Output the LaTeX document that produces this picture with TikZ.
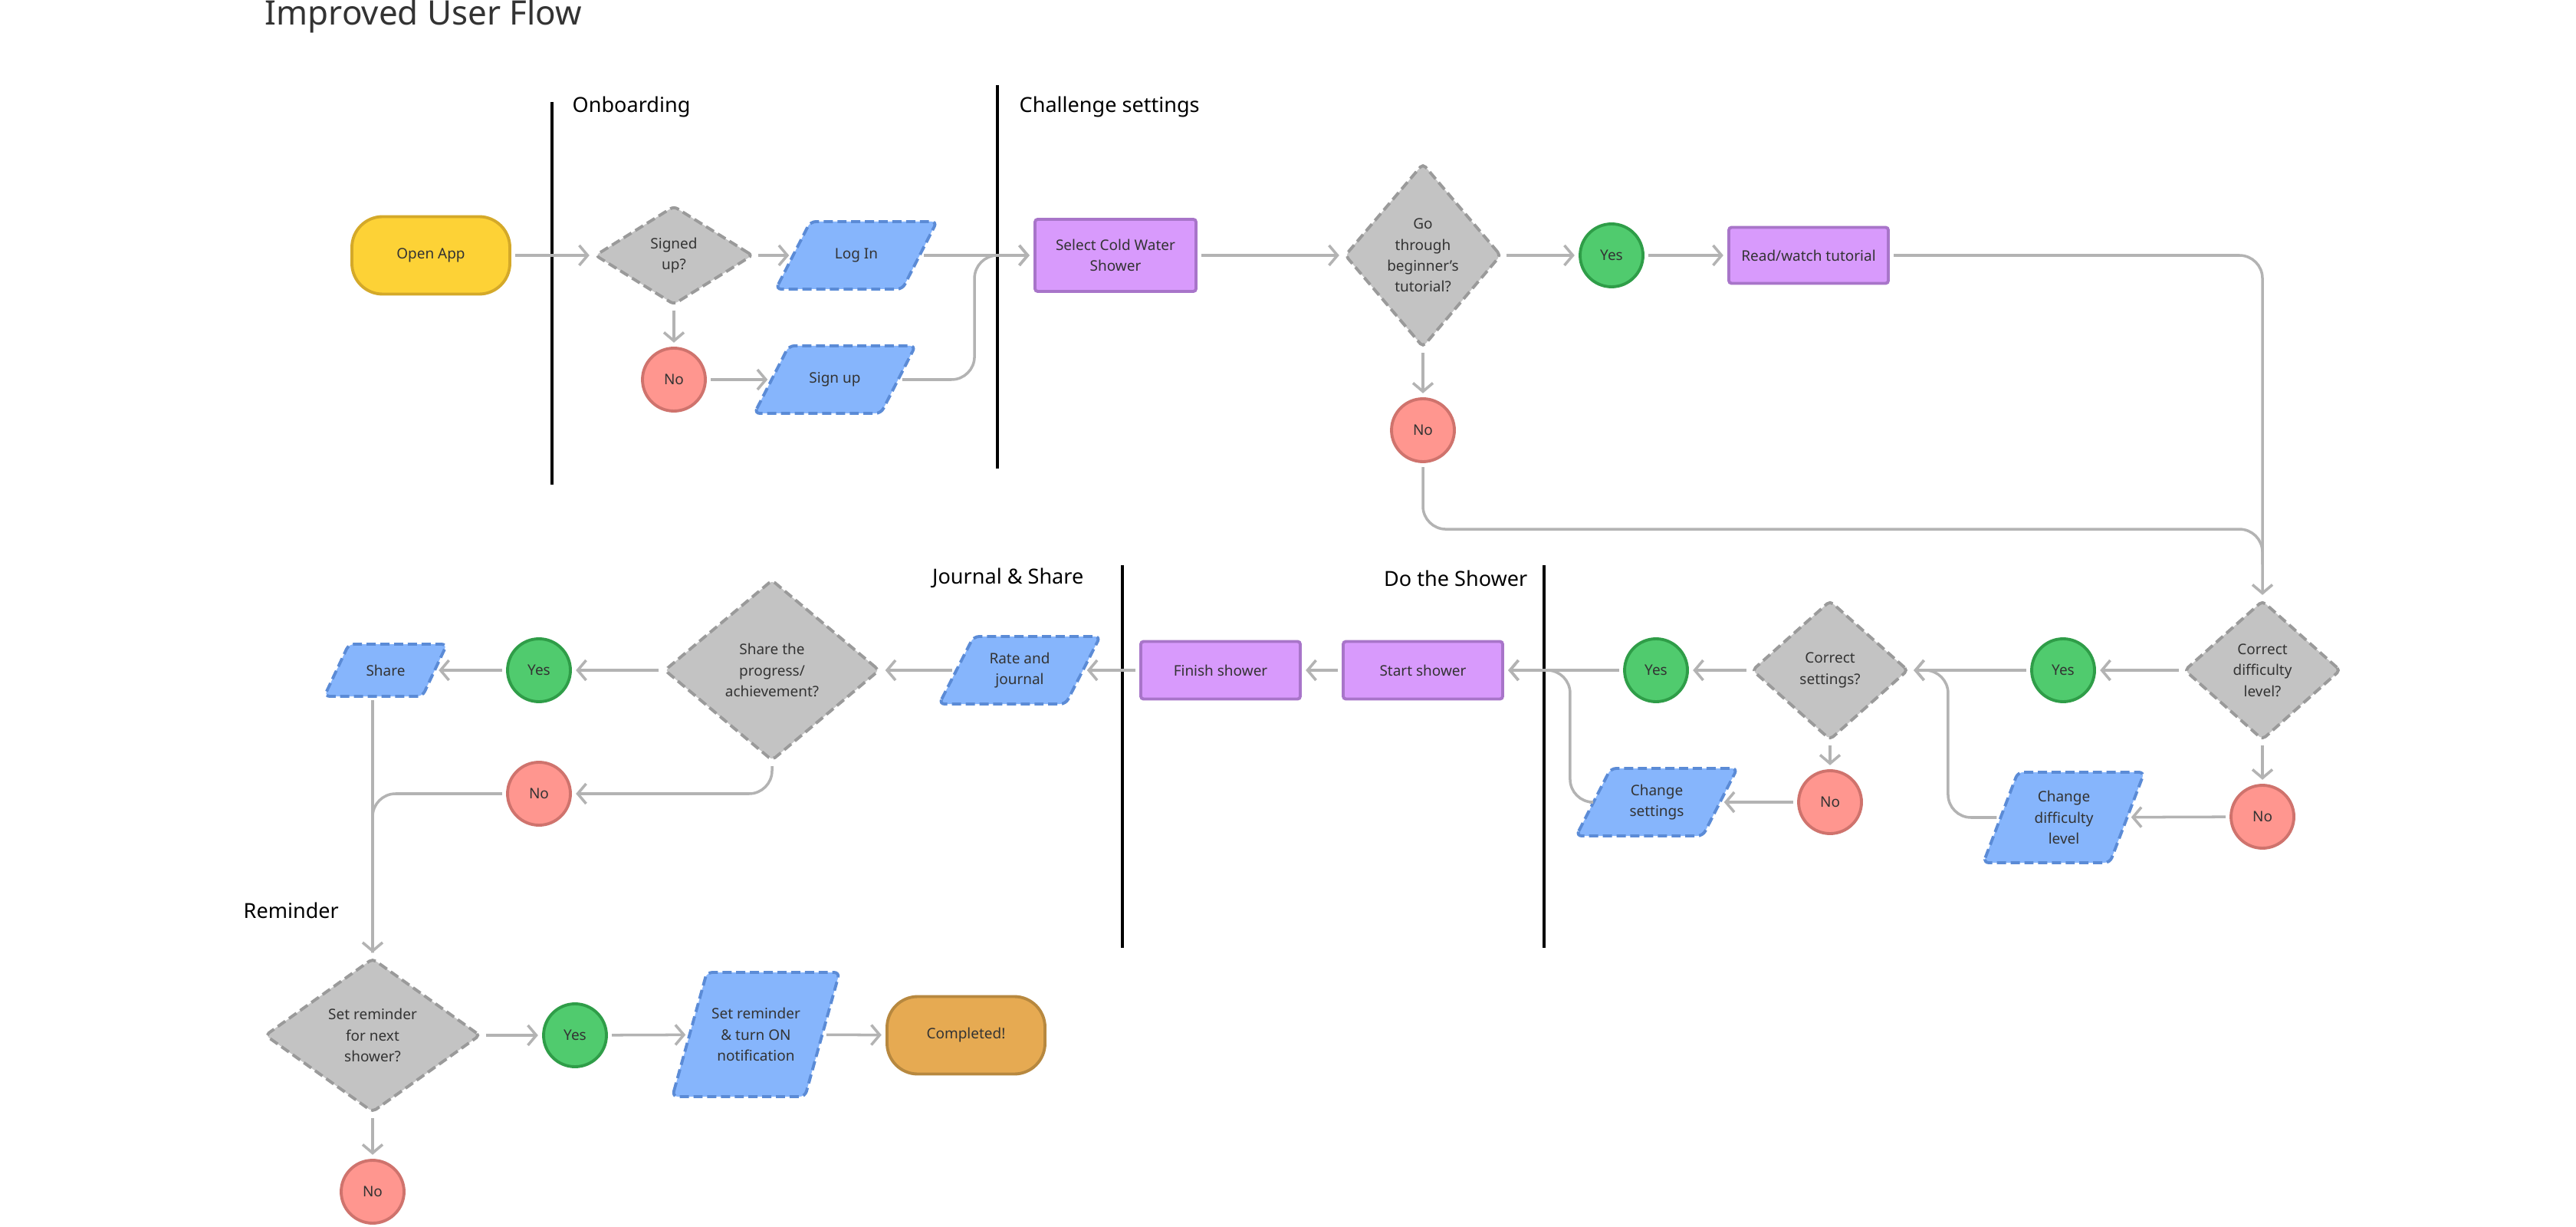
\documentclass[tikz,border=0pt]{standalone}
\usepackage{fontspec}
\setmainfont{Noto Sans}
\usetikzlibrary{arrows.meta,positioning,shapes.geometric,calc,backgrounds}

\definecolor{txtC}{HTML}{333333}
\definecolor{lineC}{HTML}{B3B3B3}
\definecolor{yelF}{HTML}{FDD236}
\definecolor{yelD}{HTML}{D4A929}
\definecolor{orgF}{HTML}{E6AA52}
\definecolor{orgD}{HTML}{B7883F}
\definecolor{grayF}{HTML}{C3C3C3}
\definecolor{grayD}{HTML}{9A9A9A}
\definecolor{bluF}{HTML}{86B5FC}
\definecolor{bluD}{HTML}{5B8BD6}
\definecolor{purF}{HTML}{D89AFC}
\definecolor{purD}{HTML}{A875C9}
\definecolor{grnF}{HTML}{50CB6E}
\definecolor{grnD}{HTML}{2F9D48}
\definecolor{redF}{HTML}{FF968F}
\definecolor{redD}{HTML}{CF736D}

\begin{document}
\begin{tikzpicture}[font=\fontsize{5.4}{7.8}\selectfont,
  >={Straight Barb[length=1.1mm,width=2.6mm]},
  base/.style={draw,line width=1.1pt,text=txtC,align=center,inner sep=1pt},
  term/.style={base,rectangle,rounded corners=4mm,minimum width=2.06cm,minimum height=1.01cm},
  proc/.style={base,rectangle,rounded corners=1pt,fill=purF,draw=purD,minimum width=2.08cm,minimum height=0.75cm},
  dec/.style={base,diamond,inner sep=0pt,fill=grayF,draw=grayD,dash pattern=on 3.4pt off 1.7pt,rounded corners=1.5pt},
  io/.style={base,draw=none,rectangle,outer sep=0pt,minimum width=1.65cm,minimum height=0.88cm},
  iob/.style={line width=1.1pt,fill=bluF,draw=bluD,dash pattern=on 3.4pt off 1.7pt,rounded corners=2pt},
  yes/.style={base,circle,fill=grnF,draw=grnD,minimum size=0.82cm},
  no/.style={base,circle,fill=redF,draw=redD,minimum size=0.82cm},
  sec/.style={font=\fontsize{7.7}{10}\selectfont,text=black,inner sep=0pt},
  lane/.style={line width=0.9pt,black},
  flow/.style={->,line width=1pt,draw=lineC,rounded corners=3mm,shorten >=1.5pt,shorten <=1.5pt}]
\useasboundingbox (0,0) rectangle (33.6,-16);
\node[anchor=base west,font=\fontsize{12.5}{15}\selectfont,text=txtC,inner sep=0pt](title) at (3.45,-0.33){Improved User Flow};
% lanes
\draw[lane](7.20,-1.33)--(7.20,-6.32);
\draw[lane](13.01,-1.11)--(13.01,-6.11);
\draw[lane](14.64,-7.37)--(14.64,-12.36);
\draw[lane](20.14,-7.37)--(20.14,-12.36);
\node[sec,anchor=west](onb) at (7.46,-1.39){Onboarding};
\node[sec,anchor=west](chal) at (13.29,-1.39){Challenge settings};
\node[sec,anchor=east](jour) at (14.14,-7.54){Journal \& Share};
\node[sec,anchor=east](dosh) at (19.93,-7.54){Do the Shower};
\node[sec,anchor=west](remi) at (3.17,-11.87){Reminder};
% onboarding
\node[term,fill=yelF,draw=yelD](open) at (5.62,-3.33){Open App};
\node[dec,minimum width=2.06cm,minimum height=1.29cm](signed) at (8.79,-3.33){Signed\\up?};
\node[io](login) at (11.17,-3.33){Log In};
\node[no](no1) at (8.79,-4.95){No};
\node[io](signup) at (10.89,-4.95){Sign up};
\draw[flow](open)--(signed); \draw[flow](signed)--(login);
\draw[flow](signed)--(no1); \draw[flow](no1)--(signup);
% challenge settings
\node[proc,minimum width=2.1cm,minimum height=0.94cm](select) at (14.55,-3.33){Select Cold Water\\Shower};
\node[dec,minimum width=2.04cm,minimum height=2.4cm](tut) at (18.56,-3.33){Go\\through\\beginner’s\\tutorial?};
\node[yes](yes1) at (21.02,-3.33){Yes};
\node[proc,minimum height=0.73cm](read) at (23.59,-3.33){Read/watch tutorial};
\node[no](no2) at (18.56,-5.61){No};
\draw[flow](login)--(select);
\draw[flow](signup.east)-|([xshift=-7.7mm]select.west)--(select.west);
\draw[flow](select)--(tut); \draw[flow](tut)--(yes1); \draw[flow](yes1)--(read);
\draw[flow](tut)--(no2);
% checks
\node[dec,minimum width=2.04cm,minimum height=1.82cm](cdl) at (29.51,-8.74){Correct\\difficulty\\level?};
\node[yes](yes2) at (26.91,-8.74){Yes};
\node[dec,minimum width=2.04cm,minimum height=1.82cm](cset) at (23.87,-8.74){Correct\\settings?};
\node[yes](yes3) at (21.60,-8.74){Yes};
\node[no](no3) at (29.51,-10.65){No};
\node[io,minimum height=1.18cm](chdiff) at (26.92,-10.66){Change\\difficulty\\level};
\node[no](no4) at (23.87,-10.46){No};
\node[io](chset) at (21.61,-10.46){Change\\settings};
\draw[flow](read.east)-|(cdl.north);
\draw[flow,-](no2.south)|-([yshift=9.1mm]cdl.north)--([yshift=4mm]cdl.north);
\draw[flow](cdl)--(yes2); \draw[flow](yes2)--(cset);
\draw[flow](cdl)--(no3); \draw[flow](no3)--(chdiff);
\draw[flow](chdiff.west)-|([xshift=5mm]cset.east)--(cset.east);
\draw[flow](cset)--(yes3); \draw[flow](cset)--(no4); \draw[flow](no4)--(chset);
% do the shower
\node[proc](start) at (18.56,-8.74){Start shower};
\node[proc](finish) at (15.92,-8.74){Finish shower};
\draw[flow](yes3)--(start);
\draw[flow](chset.west)-|([xshift=8.6mm]start.east)--(start.east);
\draw[flow](start)--(finish);
% journal and share
\node[io](rate) at (13.30,-8.74){Rate and\\journal};
\node[dec,minimum width=2.81cm,minimum height=2.36cm](sharq) at (10.07,-8.74){Share the\\progress/\\achievement?};
\node[yes](yes4) at (7.03,-8.74){Yes};
\node[io,minimum width=1.28cm,minimum height=0.68cm](share) at (5.03,-8.74){Share};
\node[no](no5) at (7.03,-10.35){No};
\draw[flow](finish)--(rate); \draw[flow](rate)--(sharq);
\draw[flow](sharq)--(yes4); \draw[flow](yes4)--(share);
\draw[flow](sharq.south)|-(no5);
% reminder
\node[dec,minimum width=2.81cm,minimum height=2.01cm](rem) at (4.86,-13.50){Set reminder\\for next\\shower?};
\node[yes](yes5) at (7.50,-13.50){Yes};
\node[io,minimum width=1.73cm,minimum height=1.62cm](setrem) at (9.86,-13.49){Set reminder\\\& turn ON\\notification};
\node[term,fill=orgF,draw=orgD](done) at (12.60,-13.50){Completed!};
\node[no](no6) at (4.86,-15.54){No};
\draw[flow,-](no5.west)-|(rem.north);
\draw[flow](share.south -| rem.north)--(rem.north);
\draw[flow](rem)--(yes5); \draw[flow](yes5)--(setrem); \draw[flow](setrem)--(done);
\draw[flow](rem)--(no6);
% slanted boxes behind the io nodes
\begin{scope}[on background layer]
  \fill[white](0,0) rectangle (33.6,-16);
  \foreach \n/\s in {login/2.25mm,signup/2.25mm,chdiff/2.25mm,chset/2.25mm,rate/2.25mm,share/1.6mm,setrem/2.25mm}
    \filldraw[iob]([xshift=-\s]\n.south west)--([xshift=\s]\n.north west)
      --([xshift=\s]\n.north east)--([xshift=-\s]\n.south east)--cycle;
\end{scope}
\end{tikzpicture}
\end{document}
